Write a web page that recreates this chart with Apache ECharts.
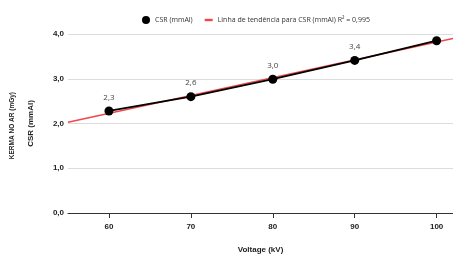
<!DOCTYPE html>
<html><head><meta charset="utf-8">
<script src="https://cdn.jsdelivr.net/npm/echarts@6/dist/echarts.min.js"></script>
<style>html,body{margin:0;padding:0;background:#fff}#c{width:453px;height:254px}</style>
</head><body><div id="c"></div>
<script>
const voltage = [60, 70, 80, 90, 100];
const csr = [2.28, 2.6, 2.99, 3.41, 3.85];
const csrLabels = ['2,3', '2,6', '3,0', '3,4', ''];
const trendX = [55, 102];
const trendY = [2.03, 3.9];
const xTicks = [60, 70, 80, 90, 100];
const seriesName = 'CSR (mmAl)';
const trendName = 'Linha de tendência para CSR (mmAl) R² = 0,995';

const chart = echarts.init(document.getElementById('c'), null, {renderer: 'canvas'});
chart.setOption({
  animation: false,
  legend: {
    top: 11, left: 137,
    itemWidth: 8, itemHeight: 8, itemGap: 12,
    textStyle: {fontFamily: 'Open Sans', fontSize: 7, color: '#333'},
    data: [
      {name: seriesName, icon: 'circle'},
      {name: trendName, icon: 'path://M0,0H20V6H0Z', itemStyle: {color: '#f04848'}}
    ]
  },
  grid: {left: 68, right: 0, top: 34, bottom: 41, outerBoundsMode: 'none', containLabel: false},
  xAxis: {
    type: 'value', min: 55, max: 102,
    name: 'Voltage (kV)', nameLocation: 'middle', nameGap: 33,
    nameTextStyle: {fontFamily: 'Liberation Sans', fontWeight: 'bold', fontSize: 8, color: '#222'},
    axisLine: {show: true, onZero: false, lineStyle: {color: '#333', width: 1}},
    axisTick: {show: true, length: 5, lineStyle: {color: '#333'}, customValues: xTicks},
    axisLabel: {customValues: xTicks, fontFamily: 'Liberation Sans', fontWeight: 'bold', fontSize: 8, color: '#222', margin: 10},
    splitLine: {show: false}
  },
  yAxis: {
    type: 'value', min: 0, max: 4, interval: 1,
    name: 'CSR (mmAl)', nameLocation: 'middle', nameGap: 33, nameRotate: 90,
    nameTextStyle: {fontFamily: 'Liberation Sans', fontWeight: 'bold', fontSize: 8, color: '#222'},
    axisLine: {show: false}, axisTick: {show: false},
    axisLabel: {fontFamily: 'Liberation Sans', fontWeight: 'bold', fontSize: 8, color: '#222', margin: 4,
      formatter: v => v.toFixed(1).replace('.', ',')},
    splitLine: {lineStyle: {color: '#dcdcdc', width: 1}}
  },
  graphic: [{
    type: 'text', left: 9, top: 92, rotation: Math.PI/2,
    style: {text: 'KERMA NO AR (mGy)', fontFamily: 'Liberation Sans', fontWeight: 'bold', fontSize: 6.5, fill: '#222'}
  }],
  series: [
    {
      name: trendName, type: 'line', z: 2,
      data: trendX.map((x, i) => [x, trendY[i]]),
      symbol: 'none', lineStyle: {color: '#f04848', width: 1.5}, itemStyle: {color: '#f04848'}
    },
    {
      name: seriesName, type: 'line', z: 3,
      data: voltage.map((x, i) => [x, csr[i]]),
      symbol: 'circle', symbolSize: 9,
      lineStyle: {color: '#000', width: 1.8}, itemStyle: {color: '#000'},
      label: {show: true, position: 'top', distance: 5, fontFamily: 'Open Sans', fontSize: 8, color: '#444',
        formatter: p => csrLabels[p.dataIndex]}
    }
  ]
});
</script></body></html>
